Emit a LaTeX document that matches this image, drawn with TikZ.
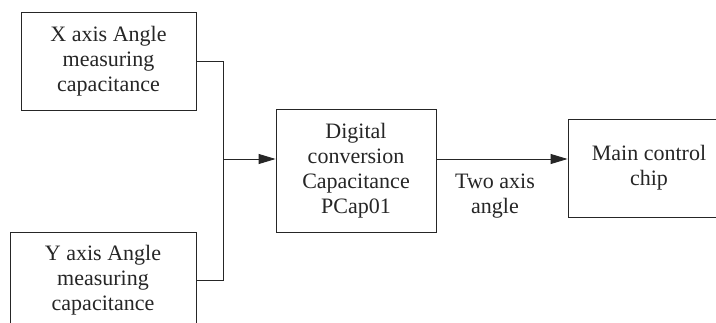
\documentclass[tikz,border=0pt]{standalone}
\usepackage{fontspec}
\setmainfont{Liberation Serif}
\usetikzlibrary{arrows.meta,calc}
\begin{document}
\begin{tikzpicture}[x=1pt,y=-1pt,
  blk/.style={draw=black!85,line width=0.9pt,align=center,inner sep=0pt,
    font=\fontsize{22}{25}\selectfont,text=black!85},
  conn/.style={draw=black!85,line width=0.9pt},
  arr/.style={conn,-{Triangle[length=17pt,width=10pt]}},
  lbl/.style={align=center,font=\fontsize{22}{25}\selectfont,text=black!85}]
\useasboundingbox (0,0) rectangle (716,323);
\clip (0,0) rectangle (716,323);
\fill[white] (0,0) rectangle (716,323);
\node[blk,minimum width=175pt,minimum height=98pt] (xb) at (108.5,61) {X axis Angle\\measuring\\capacitance};
\node[blk,minimum width=186pt,minimum height=97pt] (yb) at (103,280.5) {Y axis Angle\\measuring\\capacitance};
\node[blk,minimum width=160pt,minimum height=123pt] (dig) at (356,170.5) {Digital\\conversion\\Capacitance\\PCap01};
\node[blk,minimum width=162pt,minimum height=98pt] (mc) at (649,168) {Main control\\chip};
\coordinate (j) at (223,159);
\draw[conn] (xb.east) -| (j);
\draw[conn] (yb.east) -| (j);
\draw[arr] (j) -- (j -| dig.west);
\coordinate (d) at (dig.east |- j);
\draw[arr] (d) -- (d -| mc.west);
\node[lbl] (lab) at (495,196) {Two axis\\angle};
\end{tikzpicture}
\end{document}
